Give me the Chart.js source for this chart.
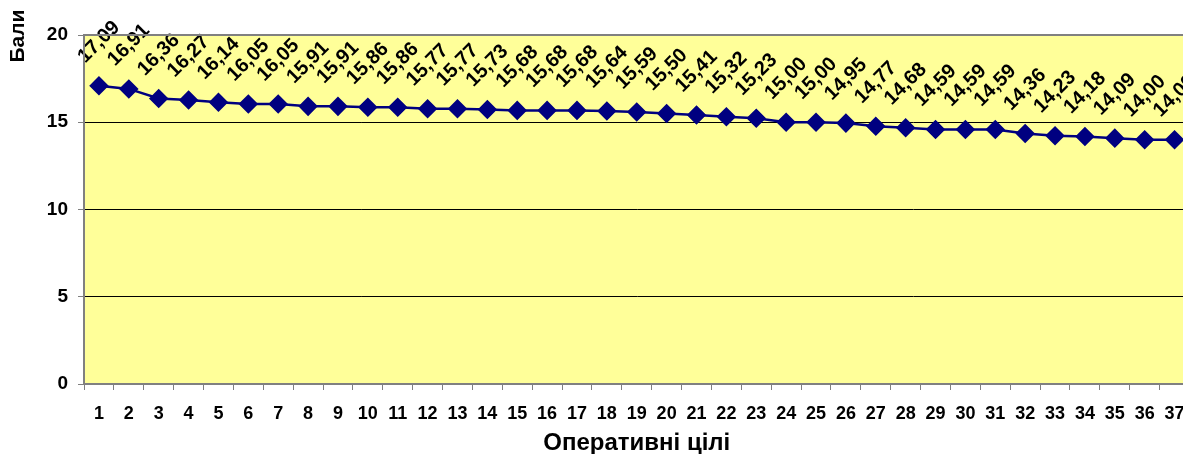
<!DOCTYPE html>
<html lang="uk">
<head>
  <meta charset="UTF-8">
  <title>Оперативні цілі</title>
  <script src="https://cdn.jsdelivr.net/npm/chart.js"></script>
  <style>
    body {
      margin: 0;
      background: #fff;
      overflow: hidden;
    }
  </style>
</head>
<body>

  <canvas id="chart" width="1200" height="458"></canvas>

  <script>
    const labels = ["1","2","3","4","5","6","7","8","9","10","11","12","13","14","15","16","17","18","19",
                    "20","21","22","23","24","25","26","27","28","29","30","31","32","33","34","35","36","37"];
    const bali = [17.09, 16.91, 16.36, 16.27, 16.14, 16.05, 16.05, 15.91, 15.91, 15.86, 15.86, 15.77, 15.77,
                  15.73, 15.68, 15.68, 15.68, 15.64, 15.59, 15.50, 15.41, 15.32, 15.23, 15.00, 15.00, 14.95,
                  14.77, 14.68, 14.59, 14.59, 14.59, 14.36, 14.23, 14.18, 14.09, 14.00, 14.00];
    const yTicks = [0, 5, 10, 15, 20];

    const font = "'Liberation Sans', Arial, sans-serif";

    // жовтий фон області побудови, сіра рамка, назва осі Y
    const plotArea = {
      id: "plotArea",
      beforeDraw(chart) {
        const a = chart.chartArea;
        const ctx = chart.ctx;
        ctx.save();
        ctx.fillStyle = "#FFFF99";
        ctx.fillRect(a.left, a.top, a.right - a.left, a.bottom - a.top);
        ctx.restore();
      },
      afterDraw(chart) {
        const a = chart.chartArea;
        const ctx = chart.ctx;
        ctx.save();
        ctx.strokeStyle = "#808080";
        ctx.lineWidth = 2;
        ctx.strokeRect(a.left, a.top, a.right - a.left, a.bottom - a.top);

        ctx.fillStyle = "#000";
        ctx.font = "bold 21px " + font;
        ctx.textAlign = "center";
        ctx.textBaseline = "middle";
        ctx.translate(18, 36);
        ctx.rotate(-Math.PI / 2);
        ctx.fillText("Бали", 0, 0);
        ctx.restore();
      }
    };

    // підписи значень під кутом 45° над точками
    const valueLabels = {
      id: "valueLabels",
      afterDatasetsDraw(chart) {
        const ctx = chart.ctx;
        const meta = chart.getDatasetMeta(0);
        const h = 14;
        ctx.save();
        ctx.fillStyle = "#000";
        ctx.font = "bold 20px " + font;
        ctx.textAlign = "center";
        ctx.textBaseline = "middle";
        meta.data.forEach((pt, i) => {
          const txt = bali[i].toFixed(2).replace(".", ",");
          const w = ctx.measureText(txt).width;
          const box = (w + h) * Math.SQRT1_2;
          ctx.save();
          ctx.translate(pt.x, pt.y - 21 - box / 2);
          ctx.rotate(-Math.PI / 4);
          ctx.fillText(txt, 0, 0);
          ctx.restore();
        });
        ctx.restore();
      }
    };

    new Chart(document.getElementById("chart"), {
      type: "line",
      data: {
        labels: labels,
        datasets: [{
          data: bali,
          borderColor: "#000080",
          backgroundColor: "#000080",
          borderWidth: 2.5,
          pointStyle: "rectRot",
          pointRadius: 8,
          pointHoverRadius: 8,
          tension: 0
        }]
      },
      options: {
        responsive: false,
        animation: false,
        layout: { padding: { left: 0, right: 9, top: 35, bottom: 0 } },
        plugins: {
          legend: { display: false },
          tooltip: { enabled: false }
        },
        scales: {
          x: {
            offset: true,
            afterFit: s => { s.height = 74; },
            grid: {
              offset: true,
              drawOnChartArea: false,
              tickLength: 6,
              tickColor: "#808080"
            },
            border: { color: "#808080", width: 2 },
            ticks: {
              color: "#000",
              font: { family: font, weight: "bold", size: 18 },
              maxRotation: 0,
              autoSkip: false,
              padding: 13
            },
            title: {
              display: true,
              text: "Оперативні цілі",
              color: "#000",
              font: { family: font, weight: "bold", size: 24 },
              padding: { top: 0, bottom: 0 }
            }
          },
          y: {
            min: 0,
            max: 20,
            afterFit: s => { s.width = 84; },
            afterBuildTicks: s => { s.ticks = yTicks.map(v => ({ value: v })); },
            grid: {
              color: c => (c.tick && (c.tick.value === 0 || c.tick.value === 20)) ? "rgba(0,0,0,0)" : "#000",
              lineWidth: 1,
              tickLength: 6,
              tickColor: "#808080"
            },
            border: { color: "#808080", width: 2 },
            ticks: {
              color: "#000",
              font: { family: font, weight: "bold", size: 19 },
              padding: 10
            }
          }
        }
      },
      plugins: [plotArea, valueLabels]
    });
  </script>

</body>
</html>
